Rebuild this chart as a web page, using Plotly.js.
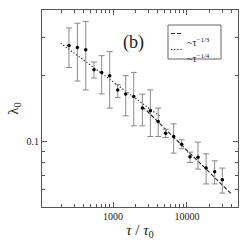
<!DOCTYPE html>
<html>
<head>
<meta charset="utf-8">
<script src="https://cdn.plot.ly/plotly-3.0.1.min.js"></script>
<style>html,body{margin:0;padding:0;background:#fff}#chart{width:249px;height:240px}</style>
</head>
<body>
<div id="chart"></div>
<script>
// data
const tau = [254, 330, 428, 553, 703, 902, 1158, 1486, 1906, 2494, 3199, 4083, 5153, 6607, 8475, 10990, 14090, 18160, 23660, 30060];
const lambda0 = [0.275, 0.269, 0.263, 0.213, 0.207, 0.200, 0.172, 0.165, 0.1605, 0.142, 0.138, 0.1232, 0.1088, 0.1052, 0.0969, 0.0849, 0.0846, 0.0754, 0.0725, 0.0666];
const lambdaHi = [0.331, 0.348, 0.354, 0.231, 0.247, 0.258, 0.182, 0.200, 0.207, 0.1646, 0.1723, 0.142, 0.1137, 0.1203, 0.1016, 0.0892, 0.0992, 0.0877, 0.0814, 0.0754];
const lambdaLo = [0.218, 0.189, 0.172, 0.195, 0.165, 0.142, 0.159, 0.1309, 0.1178, 0.1178, 0.1052, 0.1052, 0.1041, 0.0883, 0.0924, 0.0800, 0.0746, 0.0638, 0.0638, 0.0579];
const fit13Tau = [2500, 39800];
const fit13Val = [0.1444, 0.0574];
const fit14Tau = [196, 4300];
const fit14Val = [0.282, 0.1302];
const xTickVals = [1000, 10000];
const xTickText = ['1000', '10000'];
const xMinor = [200,300,400,500,600,700,800,900,2000,3000,4000,5000,6000,7000,8000,9000,20000,30000,40000];
const yTickVals = [0.1];
const yTickText = ['0.1'];
const yMinor = [0.06,0.07,0.08,0.09,0.2,0.3];
const legendLabels = ['~τ<sup>−1/3</sup>', '~τ<sup>−1/4</sup>'];

const errPlus = lambda0.map((v,i)=>lambdaHi[i]-v);
const errMinus = lambda0.map((v,i)=>v-lambdaLo[i]);

const serif = 'Liberation Serif, Times New Roman, serif';
const DASH = '4px,2px';
const DOT = '1.2px,2px';
const traces = [
  {x: fit14Tau, y: fit14Val, mode:'lines', line:{color:'#222', dash:DOT, width:1.2}, showlegend:false, hoverinfo:'skip'},
  {x: fit13Tau, y: fit13Val, mode:'lines', line:{color:'#222', dash:DASH, width:1.1}, showlegend:false, hoverinfo:'skip'},
  {x: tau, y: lambda0, mode:'markers', marker:{color:'#000', size:3.5},
   error_y:{type:'data', symmetric:false, array:errPlus, arrayminus:errMinus, color:'#8a8a8a', thickness:1, width:3},
   showlegend:false}
];

function px(x){return (x-42)/196;}
function py(y){return (207-y)/197;}

const layout = {
  width:249, height:240,
  margin:{l:42, r:11, t:10, b:33},
  paper_bgcolor:'#fff', plot_bgcolor:'#fff',
  font:{family:serif, color:'#222', size:10},
  showlegend:false,
  xaxis:{type:'log', range:[2.04, 4.69], showgrid:false, zeroline:false,
    showline:true, linecolor:'#555', linewidth:1, mirror:'ticks',
    ticks:'inside', ticklen:5, tickcolor:'#555', tickmode:'array', tickvals:xTickVals, ticktext:xTickText,
    tickfont:{family:serif, size:10, color:'#222'},
    minor:{tickmode:'array', tickvals:xMinor, ticks:'inside', ticklen:3, tickcolor:'#555', showgrid:false},
    title:{text:'<i>τ</i> / <i>τ</i><sub>0</sub>', font:{family:serif, size:15, color:'#222'}, standoff:4},
    automargin:false},
  yaxis:{type:'log', range:[Math.log10(0.05), Math.log10(0.4)], showgrid:false, zeroline:false,
    showline:true, linecolor:'#555', linewidth:1, mirror:'ticks',
    ticks:'inside', ticklen:5, tickcolor:'#555', tickmode:'array', tickvals:yTickVals, ticktext:yTickText,
    tickfont:{family:serif, size:10, color:'#222'},
    minor:{tickmode:'array', tickvals:yMinor, ticks:'inside', ticklen:3, tickcolor:'#555', showgrid:false},
    title:{text:'λ<sub>0</sub>', font:{family:serif, size:15, color:'#222'}, standoff:4},
    automargin:false},
  shapes:[
    {type:'rect', xref:'paper', yref:'paper', x0:px(168), x1:px(221), y0:py(59), y1:py(25), line:{color:'#666', width:1}, fillcolor:'#fff'},
    {type:'line', xref:'paper', yref:'paper', x0:px(171), x1:px(183), y0:py(33.5), y1:py(33.5), line:{color:'#222', width:1.1, dash:DASH}},
    {type:'line', xref:'paper', yref:'paper', x0:px(171), x1:px(183), y0:py(49.5), y1:py(49.5), line:{color:'#222', width:1.2, dash:DOT}}
  ],
  annotations:[
    {text:'(b)', xref:'paper', yref:'paper', x:px(133), y:py(30), showarrow:false, font:{family:serif, size:18, color:'#222'}},
    {text:legendLabels[0], xref:'paper', yref:'paper', x:px(185), y:py(34), xanchor:'left', showarrow:false, font:{family:serif, size:10, color:'#222'}},
    {text:legendLabels[1], xref:'paper', yref:'paper', x:px(185), y:py(50), xanchor:'left', showarrow:false, font:{family:serif, size:10, color:'#222'}}
  ]
};
Plotly.newPlot('chart', traces, layout, {displayModeBar:false, staticPlot:true});
</script>
</body>
</html>
